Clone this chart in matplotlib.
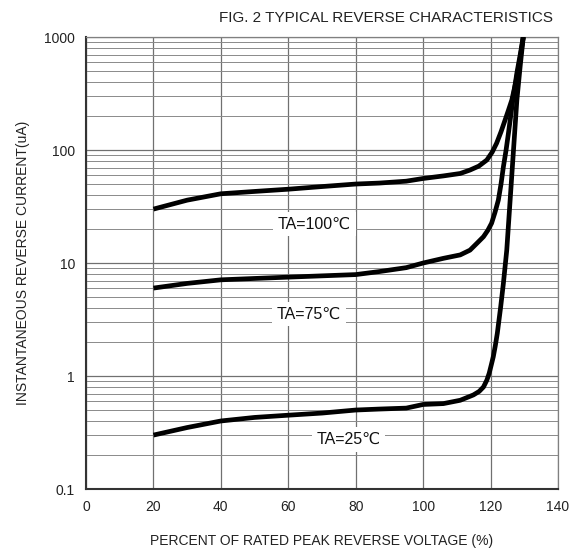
import matplotlib
matplotlib.use("Agg")
import matplotlib.pyplot as plt
from matplotlib.ticker import FixedLocator, FixedFormatter, LogLocator, NullFormatter

plt.rcParams['font.family'] = ['Liberation Sans', 'DejaVu Sans']

# Data
x_100 = [20, 30, 40, 50, 60, 70, 80, 87, 95, 100, 106, 111, 113.9, 116.5, 118.9, 120.5, 121.8, 123.1, 124.3, 125.3, 126.3, 127.5, 128.6, 129.7]
y_100 = [30, 36, 41, 43, 45, 47.5, 50, 51, 53, 56, 59, 62, 66.5, 72, 81.6, 96, 115, 145, 184, 225, 277, 400, 600, 1000]

x_75 = [20, 30, 40, 50, 60, 70, 80, 87, 95, 100, 106, 111, 113.9, 116, 117.9, 119.2, 120.3, 121.3, 122.3, 123.1, 123.8, 124.6, 125.3, 126.6, 127.8, 128.8, 129.7]
y_75 = [6, 6.6, 7.1, 7.3, 7.5, 7.7, 7.9, 8.4, 9.1, 10, 11, 11.8, 13, 15, 17.1, 19.5, 22.5, 28, 36, 50, 71, 100, 141, 277, 480, 700, 1000]

x_25 = [20, 30, 40, 50, 60, 70, 80, 87, 95, 100, 106, 111, 114.9, 116.6, 117.9, 118.9, 119.6, 120.2, 120.8, 121.4, 122.0, 123.0, 123.8, 124.8, 125.8, 126.8, 127.8, 128.8, 129.7]
y_25 = [0.3, 0.35, 0.4, 0.43, 0.45, 0.47, 0.5, 0.51, 0.52, 0.56, 0.57, 0.61, 0.68, 0.73, 0.8, 0.92, 1.06, 1.25, 1.48, 1.85, 2.39, 4.1, 6.6, 13, 36, 100, 277, 560, 1000]

x_ticks = [0, 20, 40, 60, 80, 100, 120, 140]
y_ticks = [0.1, 1, 10, 100, 1000]
y_tick_labels = ['0.1', '1', '10', '100', '1000']

labels = ['TA=100\u2103', 'TA=75\u2103', 'TA=25\u2103']
label_x = [67.7, 66.2, 77.9]
label_y = [22.1, 3.54, 0.275]

fig = plt.figure(figsize=(5.78, 5.51), dpi=100)
ax = fig.add_axes([0.1488, 0.1125, 0.8166, 0.8203])

ax.set_yscale('log')
ax.set_xlim(0, 140)
ax.set_ylim(0.1, 1000)

ax.xaxis.set_major_locator(FixedLocator(x_ticks))
ax.yaxis.set_major_locator(FixedLocator(y_ticks))
ax.yaxis.set_major_formatter(FixedFormatter(y_tick_labels))
ax.yaxis.set_minor_locator(LogLocator(base=10, subs=range(2, 10)))
ax.yaxis.set_minor_formatter(NullFormatter())

ax.grid(True, which='major', axis='both', color='#707070', lw=0.9)
ax.grid(True, which='minor', axis='y', color='#8a8a8a', lw=0.7)
ax.set_axisbelow(True)

ax.tick_params(which='both', length=0, labelsize=10, colors='#222222', pad=8)

for s in ['left', 'bottom']:
    ax.spines[s].set_color('#333333')
    ax.spines[s].set_linewidth(1.5)
for s in ['top', 'right']:
    ax.spines[s].set_color('#808080')
    ax.spines[s].set_linewidth(0.9)

for xs, ys in [(x_100, y_100), (x_75, y_75), (x_25, y_25)]:
    ax.plot(xs, ys, color='black', lw=3.4, solid_capstyle='butt', solid_joinstyle='round', zorder=3)

for t, lx, ly in zip(labels, label_x, label_y):
    ax.text(lx, ly, t, fontsize=11.5, color='#111111', ha='center', va='center', zorder=4,
            bbox=dict(boxstyle='square,pad=0.3', facecolor='white', edgecolor='none'))

fig.text(0.957, 0.968, 'FIG. 2 TYPICAL REVERSE CHARACTERISTICS', ha='right', va='center',
         fontsize=11, color='#222222')
ax.set_xlabel('PERCENT OF RATED PEAK REVERSE VOLTAGE (%)', fontsize=10, color='#222222', labelpad=14)
ax.set_ylabel('INSTANTANEOUS REVERSE CURRENT(uA)', fontsize=10, color='#222222', labelpad=10)

fig.savefig('out.png', dpi=100)
